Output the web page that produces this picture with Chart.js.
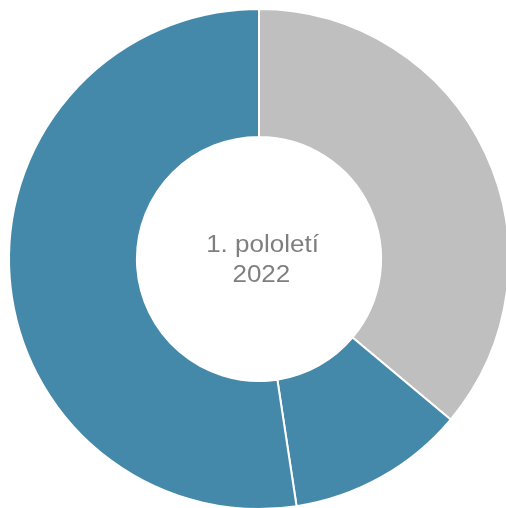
<!DOCTYPE html>
<html>
<head>
<meta charset="utf-8">
<script src="https://cdn.jsdelivr.net/npm/chart.js@4/dist/chart.umd.min.js"></script>
<style>
  html, body { margin: 0; padding: 0; background: #fff; overflow: hidden; }
  #wrap { position: absolute; left: 0; top: 0; width: 518px; height: 518px; }
</style>
</head>
<body>
<div id="wrap"><canvas id="pieChart" width="518" height="518"></canvas></div>
<script>
// data (percent shares)
const categories = ['Část A', 'Část B', 'Část C'];
const shares = [36.1, 11.5, 52.4];
const sliceColors = ['#BFBFBF', '#4589AA', '#4589AA'];
const centerLines = ['1. pololetí', '2022'];

// writes the period label into the hole
const centerText = {
  id: 'centerText',
  afterDraw(chart) {
    const arc = chart.getDatasetMeta(0).data[0];
    if (!arc) return;
    const c = chart.ctx;
    c.save();
    c.fillStyle = '#7F7F7F';
    c.font = '23px "Liberation Sans", Arial, sans-serif';
    c.textAlign = 'center';
    c.textBaseline = 'alphabetic';
    // the original lettering is a little wider than Arial
    c.translate(arc.x + 3.5, arc.y);
    c.scale(1.13, 1);
    c.fillText(centerLines[0], 0, -6.7);
    c.fillText(centerLines[1], -1, 22.7);
    c.restore();
  }
};

window.addEventListener('DOMContentLoaded', () => {
  const ctx = document.getElementById('pieChart');
  new Chart(ctx, {
    type: 'doughnut',
    data: {
      labels: categories,
      datasets: [{
        data: shares,
        backgroundColor: sliceColors,
        borderColor: '#FFFFFF',
        borderWidth: 2
      }]
    },
    options: {
      responsive: false,
      animation: false,
      radius: 250,
      cutout: 126,
      plugins: {
        legend: { display: false },
        tooltip: { enabled: false }
      }
    },
    plugins: [centerText]
  });
});
</script>
</body>
</html>
